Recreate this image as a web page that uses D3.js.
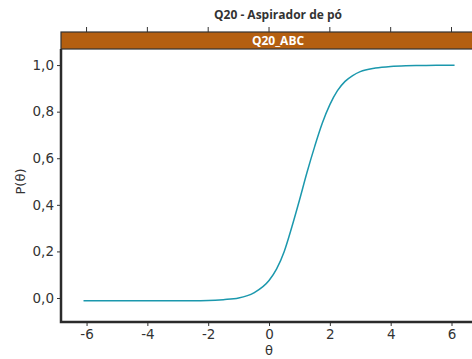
<!DOCTYPE html>
<html lang="en">
<head>
  <meta charset="UTF-8">
  <script src="https://d3js.org/d3.v7.min.js"></script>
  <title>Q20 - Aspirador de pó</title>
  <style>
    body { margin: 0; background: white; overflow: hidden; }
    .tick text { font-family: "DejaVu Sans", sans-serif; font-size: 13.5px; fill: #333; }
  </style>
</head>
<body>
<script>
  // curve
  const theta = [-6.1, -5.5, -5, -4.5, -4, -3.5, -3, -2.5, -2, -1.5, -1, -0.5, 0, 0.25, 0.5, 0.75, 1, 1.25, 1.5, 1.75, 2, 2.25, 2.5, 2.75, 3, 3.5, 4, 4.5, 5, 5.5, 6.1];
  const prob  = [-0.012, -0.012, -0.012, -0.012, -0.012, -0.012, -0.012, -0.012, -0.011, -0.007, 0.0, 0.022, 0.075, 0.125, 0.2, 0.305, 0.42, 0.54, 0.65, 0.75, 0.83, 0.89, 0.93, 0.955, 0.972, 0.987, 0.994, 0.997, 0.998, 0.999, 0.999];
  const xTicks = [-6, -4, -2, 0, 2, 4, 6];
  const yTicks = [0, 0.2, 0.4, 0.6, 0.8, 1.0];
  const title = "Q20 - Aspirador de pó";
  const strip = "Q20_ABC";

  const width = 472, height = 359;
  const mLeft = 61, mRight = 495, mTop = 49, mBottom = 322, stripTop = 32;

  const svg = d3.select("body").append("svg")
    .attr("width", width)
    .attr("height", height);

  const x = d3.scaleLinear().domain([-6.84, 7.43]).range([mLeft, mRight]);
  const y = d3.scaleLinear().domain([-0.103, 1.069]).range([mBottom, mTop]);

  // title
  svg.append("text")
    .attr("x", (mLeft + mRight) / 2)
    .attr("y", 19)
    .attr("text-anchor", "middle")
    .attr("font-family", "'Open Sans', sans-serif")
    .attr("font-weight", "bold")
    .attr("font-size", 12)
    .attr("fill", "#333")
    .text(title);

  // top ticks
  svg.append("g")
    .selectAll("line")
    .data(xTicks)
    .join("line")
    .attr("x1", d => x(d)).attr("x2", d => x(d))
    .attr("y1", stripTop - 5).attr("y2", stripTop)
    .attr("stroke", "#333").attr("stroke-width", 1);

  // strip
  svg.append("rect")
    .attr("x", mLeft).attr("y", stripTop)
    .attr("width", mRight - mLeft).attr("height", mTop - stripTop)
    .attr("fill", "#b45f10")
    .attr("stroke", "#333").attr("stroke-width", 1.2);
  svg.append("text")
    .attr("x", (mLeft + mRight) / 2)
    .attr("y", mTop - 4)
    .attr("text-anchor", "middle")
    .attr("font-family", "'Open Sans', sans-serif")
    .attr("font-weight", "bold")
    .attr("font-size", 12)
    .attr("fill", "white")
    .text(strip);

  // axes
  const fmt = d => d3.format(".1f")(d).replace(".", ",");
  const yAxis = svg.append("g")
    .attr("transform", `translate(${mLeft},0)`)
    .call(d3.axisLeft(y).tickValues(yTicks).tickFormat(fmt).tickSize(4).tickPadding(3));
  const xAxis = svg.append("g")
    .attr("transform", `translate(0,${mBottom})`)
    .call(d3.axisBottom(x).tickValues(xTicks).tickFormat(d => d).tickSize(4).tickPadding(3));
  [xAxis, yAxis].forEach(a => {
    a.select(".domain").remove();
    a.selectAll(".tick line").attr("stroke", "#333");
  });
  xAxis.selectAll(".tick text").text(d => d < 0 ? "-" + Math.abs(d) : d);

  // panel border (left and bottom visible)
  svg.append("path")
    .attr("d", `M${mLeft},${mTop}V${mBottom}H${mRight}`)
    .attr("fill", "none")
    .attr("stroke", "#2b2b2b")
    .attr("stroke-width", 2.5);

  // axis titles
  svg.append("text")
    .attr("x", x(0)).attr("y", 355)
    .attr("text-anchor", "middle")
    .attr("font-family", "DejaVu Sans, sans-serif")
    .attr("font-size", 13)
    .attr("fill", "#333")
    .text("θ");
  svg.append("text")
    .attr("transform", `translate(25,${(mTop + mBottom) / 2 - 4}) rotate(-90)`)
    .attr("text-anchor", "middle")
    .attr("font-family", "DejaVu Sans, sans-serif")
    .attr("font-size", 13)
    .attr("fill", "#333")
    .text("P(θ)");

  // curve
  const line = d3.line()
    .x((d, i) => x(theta[i]))
    .y(d => y(d))
    .curve(d3.curveMonotoneX);
  svg.append("path")
    .datum(prob)
    .attr("d", line)
    .attr("fill", "none")
    .attr("stroke", "#1b98ad")
    .attr("stroke-width", 1.5);
</script>
</body>
</html>
